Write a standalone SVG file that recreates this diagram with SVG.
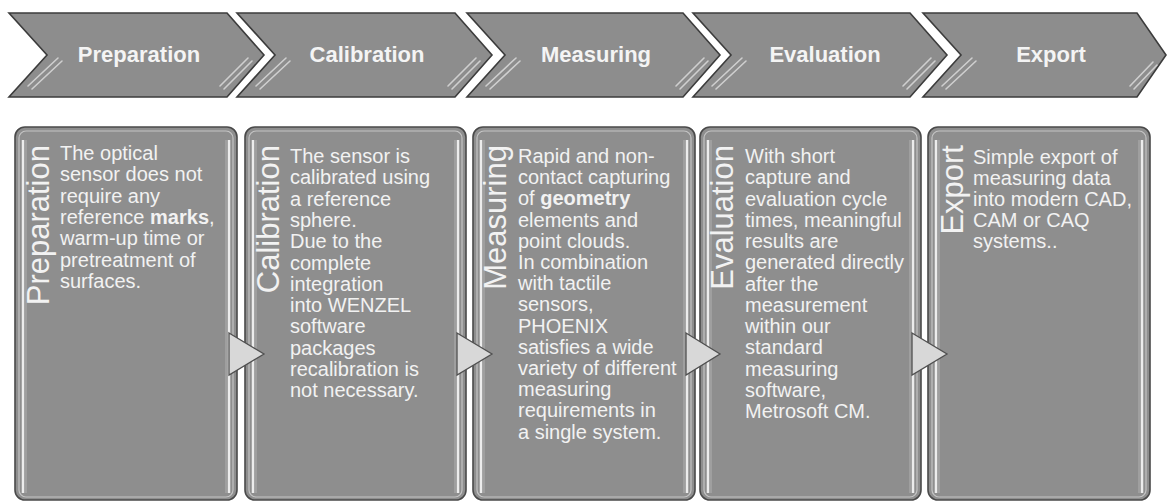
<svg xmlns="http://www.w3.org/2000/svg" width="1168" height="502" viewBox="0 0 1168 502">
<defs>
<style>
.chev{fill:#8d8d8d;stroke:#3c3c3c;stroke-width:1.6;stroke-linejoin:miter}
.halo{fill:none;stroke:#ffffff;stroke-width:6}
.stripe{stroke:#cfcfcf;stroke-width:1.6;fill:none;stroke-linecap:round}
.ctitle{font-family:"Liberation Sans",Arial,sans-serif;font-size:22px;font-weight:bold;fill:#f4f4f4;text-anchor:middle}
.card{fill:#8e8e8e;stroke:#4a4a4a;stroke-width:1.6}
.inner{fill:none;stroke:#c4c4c4;stroke-width:1.2}
.vline{stroke:#ececec;stroke-width:2.5}
.vline2{stroke:#b0b0b0;stroke-width:1}
.vtitle{font-family:"Liberation Sans",Arial,sans-serif;font-size:31px;fill:#f2f2f2;text-anchor:end}
.body{font-family:"Liberation Sans",Arial,sans-serif;font-size:20px;fill:#f2f2f2}
.arrow{fill:#d8d8d8;stroke:#505050;stroke-width:1.3;stroke-linejoin:miter}
</style>
</defs>
<rect x="0" y="0" width="1168" height="502" fill="#ffffff"/>

<g id="chevron-preparation">
<polygon class="chev" points="9,13 227,13 264,55 227,97 9,97 47,55"/>
<line class="stripe" x1="28" y1="86" x2="58" y2="58"/><line class="stripe" x1="32" y1="89" x2="62" y2="61"/>
<line class="stripe" x1="220" y1="86" x2="248" y2="58"/><line class="stripe" x1="224" y1="89" x2="252" y2="61"/>
<text class="ctitle" x="139" y="62">Preparation</text>
</g>
<g id="chevron-calibration">
<polygon class="chev" points="237,13 455,13 492,55 455,97 237,97 275,55"/>
<line class="stripe" x1="256" y1="86" x2="286" y2="58"/><line class="stripe" x1="260" y1="89" x2="290" y2="61"/>
<line class="stripe" x1="448" y1="86" x2="476" y2="58"/><line class="stripe" x1="452" y1="89" x2="480" y2="61"/>
<text class="ctitle" x="367" y="62">Calibration</text>
</g>
<g id="chevron-measuring">
<polygon class="chev" points="467,13 683,13 720,55 683,97 467,97 505,55"/>
<line class="stripe" x1="486" y1="86" x2="516" y2="58"/><line class="stripe" x1="490" y1="89" x2="520" y2="61"/>
<line class="stripe" x1="676" y1="86" x2="704" y2="58"/><line class="stripe" x1="680" y1="89" x2="708" y2="61"/>
<text class="ctitle" x="596" y="62">Measuring</text>
</g>
<g id="chevron-evaluation">
<polygon class="chev" points="693,13 910,13 947,55 910,97 693,97 731,55"/>
<line class="stripe" x1="712" y1="86" x2="742" y2="58"/><line class="stripe" x1="716" y1="89" x2="746" y2="61"/>
<line class="stripe" x1="903" y1="86" x2="931" y2="58"/><line class="stripe" x1="907" y1="89" x2="935" y2="61"/>
<text class="ctitle" x="825" y="62">Evaluation</text>
</g>
<g id="chevron-export">
<polygon class="chev" points="923,13 1137,13 1166,55 1137,97 923,97 961,55"/>
<line class="stripe" x1="942" y1="86" x2="972" y2="58"/><line class="stripe" x1="946" y1="89" x2="976" y2="61"/>
<line class="stripe" x1="1130" y1="86" x2="1153" y2="62"/><line class="stripe" x1="1134" y1="89" x2="1157" y2="65"/>
<text class="ctitle" x="1051" y="62">Export</text>
</g>

<g id="card-preparation">
<rect class="card" x="15" y="127" width="222" height="373" rx="10"/>
<rect class="inner" x="19" y="131" width="214" height="366" rx="7"/>
<line class="vline" x1="23" y1="140" x2="23" y2="493"/><line class="vline2" x1="26" y1="140" x2="26" y2="493"/>
<line class="vline" x1="229" y1="140" x2="229" y2="493"/><line class="vline2" x1="226" y1="140" x2="226" y2="493"/>
<text class="vtitle" transform="translate(49,145) rotate(-90)">Preparation</text>
<text class="body" x="60" y="160"><tspan x="60">The optical</tspan><tspan x="60" dy="21.3">sensor does not</tspan><tspan x="60" dy="21.3">require any</tspan><tspan x="60" dy="21.3">reference <tspan font-weight="bold">marks</tspan>,</tspan><tspan x="60" dy="21.3">warm-up time or</tspan><tspan x="60" dy="21.3">pretreatment of</tspan><tspan x="60" dy="21.3">surfaces.</tspan></text>
</g>
<g id="card-calibration">
<rect class="card" x="245" y="127" width="221" height="373" rx="10"/>
<rect class="inner" x="249" y="131" width="213" height="366" rx="7"/>
<line class="vline" x1="253" y1="140" x2="253" y2="493"/><line class="vline2" x1="256" y1="140" x2="256" y2="493"/>
<line class="vline" x1="458" y1="140" x2="458" y2="493"/><line class="vline2" x1="455" y1="140" x2="455" y2="493"/>
<text class="vtitle" transform="translate(279,145) rotate(-90)">Calibration</text>
<text class="body" x="290" y="163"><tspan x="290">The sensor is</tspan><tspan x="290" dy="21.3">calibrated using</tspan><tspan x="290" dy="21.3">a reference</tspan><tspan x="290" dy="21.3">sphere.</tspan><tspan x="290" dy="21.3">Due to the</tspan><tspan x="290" dy="21.3">complete</tspan><tspan x="290" dy="21.3">integration</tspan><tspan x="290" dy="21.3">into WENZEL</tspan><tspan x="290" dy="21.3">software</tspan><tspan x="290" dy="21.3">packages</tspan><tspan x="290" dy="21.3">recalibration is</tspan><tspan x="290" dy="21.3">not necessary.</tspan></text>
</g>
<g id="card-measuring">
<rect class="card" x="473" y="127" width="222" height="373" rx="10"/>
<rect class="inner" x="477" y="131" width="214" height="366" rx="7"/>
<line class="vline" x1="481" y1="140" x2="481" y2="493"/><line class="vline2" x1="484" y1="140" x2="484" y2="493"/>
<line class="vline" x1="687" y1="140" x2="687" y2="493"/><line class="vline2" x1="684" y1="140" x2="684" y2="493"/>
<text class="vtitle" transform="translate(506,145) rotate(-90)">Measuring</text>
<text class="body" x="518" y="163"><tspan x="518">Rapid and non-</tspan><tspan x="518" dy="21.2">contact capturing</tspan><tspan x="518" dy="21.2">of <tspan font-weight="bold">geometry</tspan></tspan><tspan x="518" dy="21.2">elements and</tspan><tspan x="518" dy="21.2">point clouds.</tspan><tspan x="518" dy="21.2">In combination</tspan><tspan x="518" dy="21.2">with tactile</tspan><tspan x="518" dy="21.2">sensors,</tspan><tspan x="518" dy="21.2">PHOENIX</tspan><tspan x="518" dy="21.2">satisfies a wide</tspan><tspan x="518" dy="21.2">variety of different</tspan><tspan x="518" dy="21.2">measuring</tspan><tspan x="518" dy="21.2">requirements in</tspan><tspan x="518" dy="21.2">a single system.</tspan></text>
</g>
<g id="card-evaluation">
<rect class="card" x="700" y="127" width="221" height="373" rx="10"/>
<rect class="inner" x="704" y="131" width="213" height="366" rx="7"/>
<line class="vline" x1="708" y1="140" x2="708" y2="493"/><line class="vline2" x1="711" y1="140" x2="711" y2="493"/>
<line class="vline" x1="913" y1="140" x2="913" y2="493"/><line class="vline2" x1="910" y1="140" x2="910" y2="493"/>
<text class="vtitle" transform="translate(733,145) rotate(-90)">Evaluation</text>
<text class="body" x="745" y="163"><tspan x="745">With short</tspan><tspan x="745" dy="21.25">capture and</tspan><tspan x="745" dy="21.25">evaluation cycle</tspan><tspan x="745" dy="21.25">times, meaningful</tspan><tspan x="745" dy="21.25">results are</tspan><tspan x="745" dy="21.25">generated directly</tspan><tspan x="745" dy="21.25">after the</tspan><tspan x="745" dy="21.25">measurement</tspan><tspan x="745" dy="21.25">within our</tspan><tspan x="745" dy="21.25">standard</tspan><tspan x="745" dy="21.25">measuring</tspan><tspan x="745" dy="21.25">software,</tspan><tspan x="745" dy="21.25">Metrosoft CM.</tspan></text>
</g>
<g id="card-export">
<rect class="card" x="928" y="127" width="222" height="373" rx="10"/>
<rect class="inner" x="932" y="131" width="214" height="366" rx="7"/>
<line class="vline" x1="936" y1="140" x2="936" y2="493"/><line class="vline2" x1="939" y1="140" x2="939" y2="493"/>
<line class="vline" x1="1142" y1="140" x2="1142" y2="493"/><line class="vline2" x1="1139" y1="140" x2="1139" y2="493"/>
<text class="vtitle" transform="translate(963,145) rotate(-90)">Export</text>
<text class="body" x="973" y="164"><tspan x="973">Simple export of</tspan><tspan x="973" dy="21">measuring data</tspan><tspan x="973" dy="21">into modern CAD,</tspan><tspan x="973" dy="21">CAM or CAQ</tspan><tspan x="973" dy="21">systems..</tspan></text>
</g>

<g id="connectors">
<polygon class="arrow" points="229,333 264,354 229,375"/>
<polygon class="arrow" points="457,333 492,354 457,375"/>
<polygon class="arrow" points="686,333 720,354 686,375"/>
<polygon class="arrow" points="912,333 947,354 912,375"/>
</g>
</svg>
